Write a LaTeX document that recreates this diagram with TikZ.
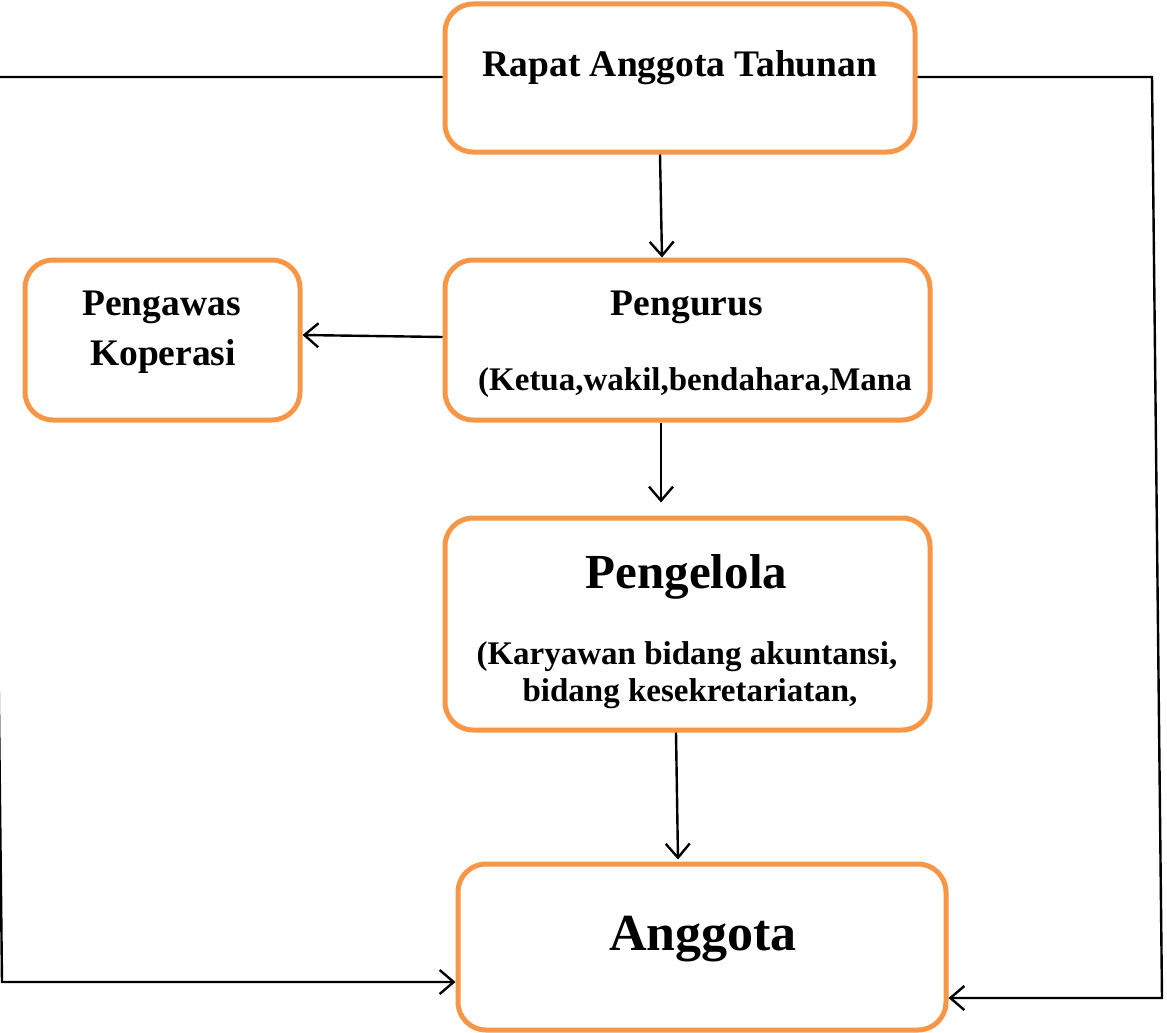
\documentclass[tikz,border=0pt]{standalone}
\usepackage{fontspec}
\setmainfont{Liberation Serif}
\usetikzlibrary{arrows.meta}
\definecolor{boxorange}{HTML}{F79646}
\begin{document}
\begin{tikzpicture}[x=1pt,y=-1pt,
 box/.style={draw=boxorange, line width=5pt, rounded corners=28pt, inner sep=0pt},
 conn/.style={draw=black, line width=2.4pt, -{Straight Barb[length=14pt,width=24pt,line width=2.4pt]}},
 lbl/.style={font=\bfseries\fontsize{37.5}{44}\selectfont, anchor=base, inner sep=0pt},
 sml/.style={font=\bfseries\fontsize{33}{38}\selectfont, anchor=base, inner sep=0pt},
 big/.style={font=\bfseries\fontsize{49}{58}\selectfont, anchor=base, inner sep=0pt},
 huge/.style={font=\bfseries\fontsize{52}{62}\selectfont, anchor=base, inner sep=0pt}]
\useasboundingbox (0,0) rectangle (1167,1033);
% boxes
\node[box, minimum width=470pt, minimum height=148pt] (rat) at (680,78) {};
\node[box, minimum width=485pt, minimum height=160pt] (pengurus) at (687.5,340) {};
\node[box, minimum width=275pt, minimum height=160pt] (pengawas) at (162.5,340) {};
\node[box, minimum width=485pt, minimum height=212pt] (pengelola) at (687.5,624) {};
\node[box, minimum width=488pt, minimum height=166pt] (anggota) at (702,947) {};
% texts
\node[lbl] (tRat) at (680,77) {Rapat Anggota Tahunan};
\node[lbl] (tPengurus) at (687,315) {Pengurus};
\node[sml] (tKetua) at (695,390) {(Ketua,wakil,bendahara,Mana};
\node[lbl] (tPengawas) at (161.5,315) {Pengawas};
\node[lbl] (tKoperasi) at (163,365) {Koperasi};
\node[big] (tPengelola) at (686.5,588) {Pengelola};
\node[sml] (tKaryawan) at (687,664) {(Karyawan bidang akuntansi,};
\node[sml] (tBidang) at (690,701) {bidang kesekretariatan,};
\node[huge] (tAnggota) at (703,950) {Anggota};
% loop coordinates
\coordinate (lt) at (-8,77);
\coordinate (lb) at (2,982);
\coordinate (rt) at (1152,77);
\coordinate (rb) at (1162,998);
% connectors
\draw[conn] ([xshift=-20pt]rat.south) -- ([xshift=-25.5pt]pengurus.north);
\draw[conn] ([yshift=3pt]pengurus.west) -- ([yshift=5pt]pengawas.east);
\draw[conn] ([xshift=-26.5pt]pengurus.south) -- ([xshift=-26.5pt,yshift=13pt]pengelola.north);
\draw[conn] ([xshift=-11.5pt]pengelola.south) -- ([xshift=-24pt,yshift=2pt]anggota.north);
\draw[conn] ([yshift=1pt]rat.west) -- (lt) -- (lb) -- ([yshift=-35pt]anggota.west);
\draw[conn] ([yshift=1pt]rat.east) -- (rt) -- (rb) -- ([yshift=-51pt]anggota.east);
\end{tikzpicture}
\end{document}
